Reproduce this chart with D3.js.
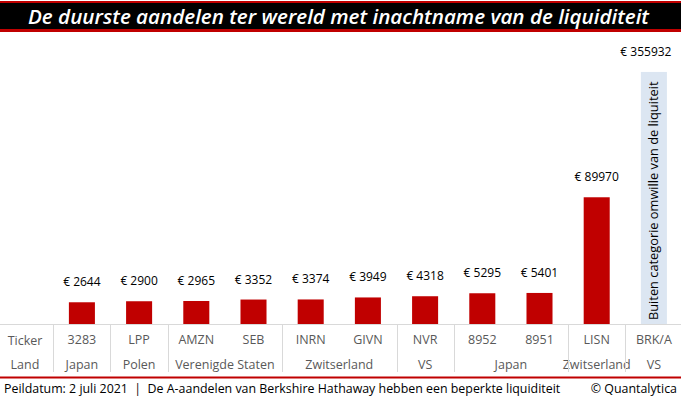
<!DOCTYPE html>
<html><head><meta charset="utf-8">
<script src="https://cdn.jsdelivr.net/npm/d3@7"></script>
<style>
html,body{margin:0;padding:0;background:#fff;}
svg{display:block;font-family:"Open Sans","Noto Sans",sans-serif;}
</style></head>
<body>
<svg id="chart" width="681" height="399"></svg>
<script>
const title = "De duurste aandelen ter wereld met inachtname van de liquiditeit";
const tickers = ["3283","LPP","AMZN","SEB","INRN","GIVN","NVR","8952","8951","LISN","BRK/A"];
const prices = [2644,2900,2965,3352,3374,3949,4318,5295,5401,89970,355932];
const outlier = ["BRK/A"];
const countries = [
  {name:"Japan", from:"3283", to:"3283"},
  {name:"Polen", from:"LPP", to:"LPP"},
  {name:"Verenigde Staten", from:"AMZN", to:"SEB"},
  {name:"Zwitserland", from:"INRN", to:"GIVN"},
  {name:"VS", from:"NVR", to:"NVR"},
  {name:"Japan", from:"8952", to:"8951"},
  {name:"Zwitserland", from:"LISN", to:"LISN"},
  {name:"VS", from:"BRK/A", to:"BRK/A"}
];
const rowLabels = ["Ticker","Land"];
const outlierNote = "Buiten categorie omwille van de liquiteit";
const footerLeft = "Peildatum: 2 juli 2021  |  De A-aandelen van Berkshire Hathaway hebben een beperkte liquiditeit";
const footerRight = "© Quantalytica";

const svg = d3.select("#chart");
const W = 681, H = 399;
const red = "#c00000";

// Title band
svg.append("rect").attr("x",0).attr("y",1).attr("width",W).attr("height",31).attr("fill",red);
svg.append("rect").attr("x",0).attr("y",3).attr("width",W).attr("height",26).attr("fill","#000");
svg.append("text").attr("x",338.5).attr("y",23.5).attr("text-anchor","middle")
  .attr("fill","#fff").attr("font-family","'Open Sans',sans-serif")
  .attr("font-weight",600).attr("font-style","italic").attr("font-size",19.5)
  .attr("textLength",621).attr("lengthAdjust","spacingAndGlyphs")
  .text(title);

// Scales
const baseY = 324;
const x = d3.scaleBand().domain(tickers).range([53.3, 682.5]).paddingInner(0.545).paddingOuter(0.2725);
const y = d3.scaleSqrt().domain([0, 400000]).range([baseY, baseY - 0.4225*Math.sqrt(400000)]);

const data = tickers.map((t,i)=>({t, v:prices[i], out: outlier.includes(t)}));

// Bars
svg.append("g").selectAll("rect").data(data).join("rect")
  .attr("x", d=>x(d.t)).attr("width", x.bandwidth())
  .attr("y", d=>y(d.v)).attr("height", d=>baseY - y(d.v))
  .attr("fill", d=>d.out ? "#dce6f2" : red);

// Value labels
svg.append("g").selectAll("text").data(data).join("text")
  .attr("x", d=>x(d.t) + x.bandwidth()/2 - (d.out ? 8 : 0))
  .attr("y", d=>y(d.v) - 16)
  .attr("text-anchor","middle").attr("font-size",12).attr("fill","#000")
  .text(d=>"€ " + d.v);

// Outlier note rotated
data.filter(d=>d.out).forEach(d=>{
  const cx = x(d.t) + x.bandwidth()/2;
  svg.append("text").attr("transform",`translate(${cx+4.5},${baseY-4}) rotate(-90)`)
    .attr("font-size",12.8).attr("fill","#000").text(outlierNote);
});

// Table axis
const step = x.step();
svg.append("line").attr("x1",0).attr("x2",W).attr("y1",baseY+0.5).attr("y2",baseY+0.5)
  .attr("stroke","#d9d9d9").attr("stroke-width",1);

// ticker row via axis
const axisG = svg.append("g").attr("transform",`translate(0,${baseY})`)
  .call(d3.axisBottom(x).tickSize(0).tickPadding(11));
axisG.select(".domain").remove();
axisG.selectAll("text").attr("font-size",12.5).attr("fill","#595959")
  .attr("font-family","'Open Sans',sans-serif");

// country row
const groupBounds = countries.map(c=>({name:c.name, x0:x(c.from) - x.paddingInner()*step/2, x1:x(c.to)+x.bandwidth()+x.paddingInner()*step/2}));
svg.append("g").selectAll("text").data(groupBounds).join("text")
  .attr("x", d=>(d.x0+d.x1)/2).attr("y", 369)
  .attr("text-anchor","middle").attr("font-size",12.5).attr("fill","#595959")
  .text(d=>d.name);

// separators
const seps = [groupBounds[0].x0, ...groupBounds.map(d=>d.x1)].filter(v=>v < W-2);
svg.append("g").selectAll("line").data(seps).join("line")
  .attr("x1",d=>Math.round(d)+0.5).attr("x2",d=>Math.round(d)+0.5)
  .attr("y1",baseY).attr("y2",372).attr("stroke","#d9d9d9");

// row labels
svg.append("g").selectAll("text").data(rowLabels).join("text")
  .attr("x",25).attr("y",(d,i)=> i===0 ? 345 : 369)
  .attr("text-anchor","middle").attr("font-size",12.5).attr("fill","#595959")
  .text(d=>d);

// footer
svg.append("rect").attr("x",0).attr("y",376.5).attr("width",W).attr("height",2).attr("fill",red);
svg.append("text").attr("x",4).attr("y",392.5).attr("font-size",12.4).attr("fill","#000")
  .style("white-space","pre").text(footerLeft);
svg.append("text").attr("x",677).attr("y",392.5).attr("text-anchor","end").attr("font-size",12.4).attr("fill","#000")
  .text(footerRight);
</script>
</body></html>
